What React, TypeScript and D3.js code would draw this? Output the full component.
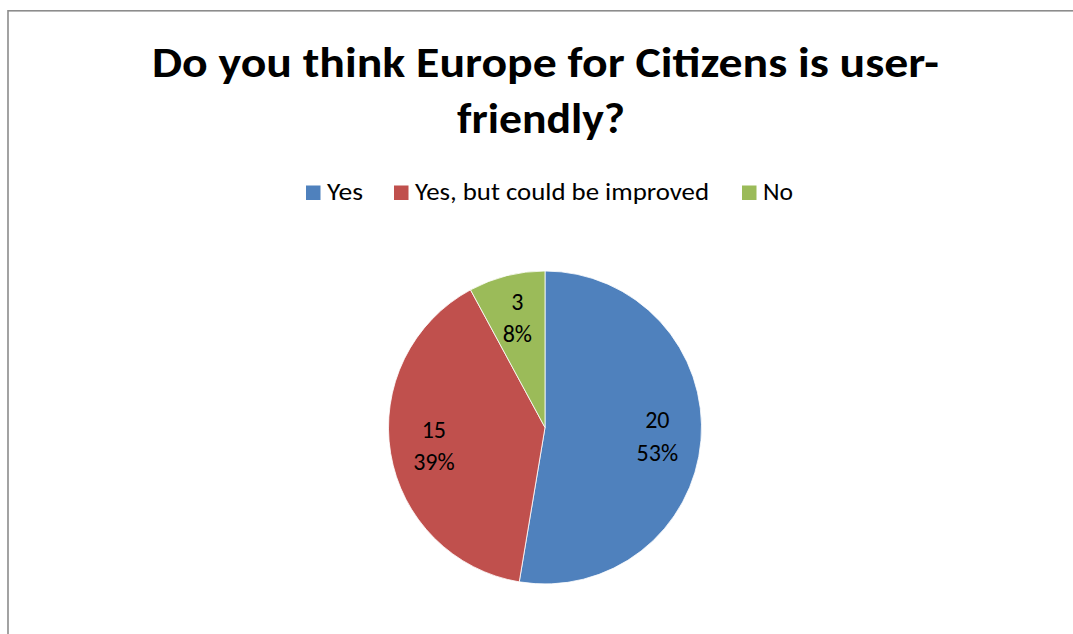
import React, { useEffect, useRef } from "react";
import * as d3 from "d3";

const categories = ["Yes", "Yes, but could be improved", "No"];
const values = [20, 15, 3];
const colors = ["#4F81BD", "#C0504D", "#9BBB59"];
const titleLines = ["Do you think Europe for Citizens is user-", "friendly?"];

export default function App() {
  const ref = useRef<SVGSVGElement>(null);
  useEffect(() => {
    const svg = d3.select(ref.current);
    svg.selectAll("*").remove();
    const font = "Carlito, Calibri, Lato, 'Open Sans', sans-serif";

    svg.append("rect").attr("x", 8).attr("y", 10.8).attr("width", 1100).attr("height", 700)
      .attr("fill", "white").attr("stroke", "#8c8c8c").attr("stroke-width", 1.6);

    const titleLen = [787, 168];
    svg.selectAll("text.title").data(titleLines).enter().append("text")
      .attr("class", "title")
      .attr("x", (d, i) => (i === 0 ? 545.5 : 541)).attr("y", (d, i) => (i === 0 ? 77 : 133.3))
      .attr("text-anchor", "middle").attr("font-family", font).attr("font-weight", "bold")
      .attr("font-size", 43).attr("fill", "#000")
      .attr("textLength", (d, i) => titleLen[i]).attr("lengthAdjust", "spacingAndGlyphs")
      .text(d => d);

    // legend
    const legendX = [306, 394, 742];
    const legendLen = [36, 294, 30];
    const lg = svg.append("g");
    categories.forEach((c, i) => {
      lg.append("rect").attr("x", legendX[i]).attr("y", 185.5).attr("width", 14.5).attr("height", 14.5).attr("fill", colors[i]);
      lg.append("text").attr("x", legendX[i] + 21).attr("y", 200).attr("font-family", font)
        .attr("font-size", 24).attr("fill", "#000")
        .attr("textLength", legendLen[i]).attr("lengthAdjust", "spacingAndGlyphs").text(c);
    });

    const cx = 545, cy = 427.5, r = 156.5;
    const total = d3.sum(values);
    const pie = d3.pie<number>().sort(null).value(d => d);
    const arcs = pie(values);
    const arc = d3.arc<d3.PieArcDatum<number>>().innerRadius(0).outerRadius(r);
    const g = svg.append("g").attr("transform", `translate(${cx},${cy})`);
    g.selectAll("path").data(arcs).enter().append("path")
      .attr("d", arc as any).attr("fill", (d, i) => colors[i]).attr("stroke", "white").attr("stroke-width", 0.8);

    const labelArc = d3.arc<d3.PieArcDatum<number>>().innerRadius(r * 0.72).outerRadius(r * 0.72);
    arcs.forEach((a, i) => {
      const [x, y] = labelArc.centroid(a);
      const t = g.append("text").attr("text-anchor", "middle").attr("font-family", font)
        .attr("font-size", 24).attr("fill", "#000");
      t.append("tspan").attr("x", x).attr("y", y - 8.5).text(String(values[i]));
      t.append("tspan").attr("x", x).attr("y", y + 24).text(Math.round((values[i] / total) * 100) + "%");
    });
  }, []);
  return (
    <svg ref={ref} width={1073} height={634}
      style={{ position: "absolute", left: 0, top: 0, background: "white" }} />
  );
}
